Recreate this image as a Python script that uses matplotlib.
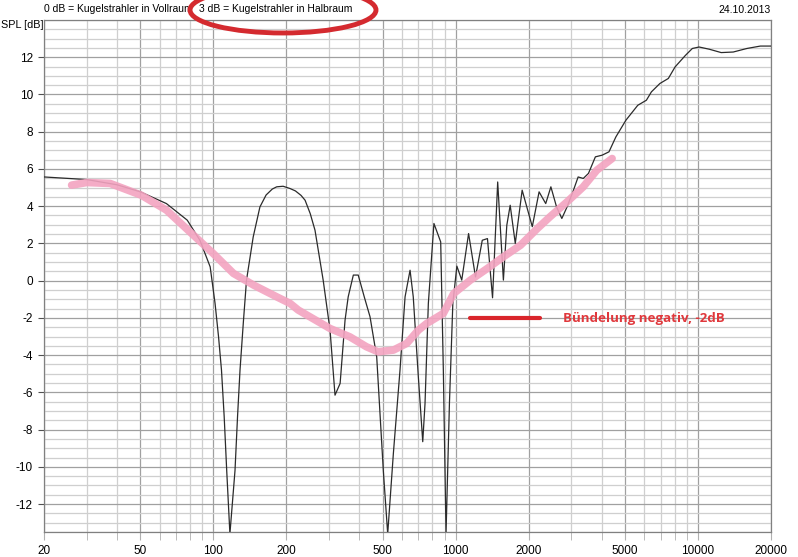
import numpy as np
import matplotlib
matplotlib.use('Agg')
import matplotlib.pyplot as plt
from matplotlib.patches import Ellipse
from matplotlib.ticker import FixedLocator, NullFormatter

plt.rcParams['font.family'] = ['Liberation Sans', 'DejaVu Sans']

# Measured response (black)
freq_meas = [20, 30, 40, 50, 64, 78, 88, 97, 101.6, 105, 108, 110.8, 113.5, 117,
             122.8, 125.8, 128.8, 133, 137, 146, 155.6, 165, 175, 182.5, 194, 207,
             218, 230, 239, 251, 262.6, 283.8, 303, 317.6, 333.4, 349.4, 360, 378,
             396, 420, 443, 472, 502.6, 524, 553, 589, 618, 648, 668, 701, 731,
             747, 771, 813, 867, 889, 912, 942, 973, 1011, 1059, 1130, 1207, 1287,
             1352, 1419, 1442, 1490, 1573, 1625, 1678, 1761, 1880, 2070, 2208,
             2352, 2470, 2607, 2741, 2880, 3050, 3200, 3360, 3530, 3770, 4020,
             4290, 4580, 5040, 5640, 6120, 6420, 6960, 7540, 8040, 8870, 9470,
             10100, 11130, 12460, 13970, 15900, 18080, 20000]
spl_meas = [5.57, 5.43, 5.15, 4.77, 4.14, 3.25, 2.17, 0.74, -1.22, -3.0, -4.8,
            -7.3, -10.2, -13.6, -10.2, -7.3, -4.8, -2.2, 0.03, 2.35, 3.96, 4.6,
            4.92, 5.04, 5.07, 4.95, 4.82, 4.58, 4.32, 3.6, 2.71, 0.03, -2.66,
            -6.15, -5.52, -2.12, -0.87, 0.3, 0.3, -0.9, -1.94, -4.09, -10.2,
            -13.6, -9.28, -4.8, -0.87, 0.56, -0.87, -5.16, -8.65, -6.6, -1.22,
            3.07, 2.08, -4.8, -13.6, -6.6, -1.22, 0.78, 0.03, 2.53, 0.2, 2.17,
            2.26, -0.92, 1.1, 5.3, 0.03, 2.98, 4.05, 2.0, 4.86, 2.9, 4.77, 4.14,
            5.04, 3.96, 3.34, 3.96, 4.8, 5.57, 5.49, 5.76, 6.65, 6.74, 6.92,
            7.72, 8.62, 9.42, 9.69, 10.14, 10.59, 10.86, 11.48, 12.1, 12.47,
            12.55, 12.43, 12.25, 12.28, 12.47, 12.6, 12.6]

# Hand-drawn trend (pink)
freq_trend = [26, 30, 37.5, 50.4, 64, 80, 99.8, 121, 146.6, 182.6, 207, 224,
              250, 303, 366, 428, 478, 553, 628, 701, 759, 889, 981, 1150, 1352,
              1573, 1850, 2172, 2449, 2880, 3360, 3820, 4420]
spl_trend = [5.13, 5.27, 5.22, 4.59, 3.79, 2.62, 1.46, 0.39, -0.24, -0.87, -1.22,
             -1.58, -1.94, -2.57, -3.02, -3.55, -3.82, -3.73, -3.37, -2.66, -2.3,
             -1.76, -0.69, 0.03, 0.66, 1.28, 1.9, 2.8, 3.43, 4.23, 5.04, 5.93,
             6.56]

# Annotation marker line
mark_freq = [1140, 2230]
mark_spl = [-2, -2]

major_x = [20, 50, 100, 200, 500, 1000, 2000, 5000, 10000, 20000]
minor_x = [30, 40, 60, 70, 80, 90, 300, 400, 600, 700, 800, 900,
           3000, 4000, 6000, 7000, 8000, 9000]
y_ticks = list(range(-12, 13, 2))

W, H = 798, 557
fig = plt.figure(figsize=(W / 100, H / 100), dpi=100)
ax = fig.add_axes([44 / W, 1 - 532 / H, 727 / W, 512 / H])

ax.set_xscale('log')
ax.set_xlim(20, 20000)
ax.set_ylim(-13.5, 14)

ax.xaxis.set_major_locator(FixedLocator(major_x))
ax.xaxis.set_minor_locator(FixedLocator(minor_x))
ax.xaxis.set_minor_formatter(NullFormatter())
ax.set_xticklabels([str(v) for v in major_x])
ax.yaxis.set_major_locator(FixedLocator(y_ticks))
ax.yaxis.set_minor_locator(FixedLocator(np.arange(-13.5, 14.01, 0.5)))
ax.set_yticklabels([str(v) for v in y_ticks])

ax.grid(which='major', color='#a0a0a0', lw=0.9)
ax.grid(which='minor', color='#cfcfcf', lw=0.9)
ax.set_axisbelow(True)
ax.tick_params(axis='x', which='both', length=6, color='#b0b0b0', pad=3, labelsize=8.5)
ax.tick_params(axis='y', which='major', length=4, color='#505050', pad=4, labelsize=8.5)
ax.tick_params(axis='y', which='minor', length=0)
for s in ax.spines.values():
    s.set_color('#808080')
    s.set_linewidth(0.9)

ax.plot(freq_meas, spl_meas, color='#2b2b2b', lw=0.9, zorder=3)
ax.plot(freq_trend, spl_trend, color='#f3a3c0', lw=5.5, alpha=0.9,
        solid_capstyle='round', solid_joinstyle='round', zorder=4)
ax.plot(mark_freq, mark_spl, color='#d9252b', lw=3, solid_capstyle='round', zorder=5)
ax.text(2780, -2.05, 'Bündelung negativ, -2dB', color='#e0383c', fontsize=9.6,
        fontweight='bold', family=['Open Sans', 'DejaVu Sans'], va='center', ha='left', zorder=5)

head = dict(fontsize=7.5, va='center')
fig.text(44 / W, 1 - 9 / H, '0 dB = Kugelstrahler in Vollraum', ha='left', **head)
fig.text(199 / W, 1 - 9 / H, '3 dB = Kugelstrahler in Halbraum', ha='left', **head)
fig.text(771 / W, 1 - 10 / H, '24.10.2013', ha='right', **head)
fig.text(1 / W, 1 - 25 / H, 'SPL [dB]', ha='left', va='center', fontsize=7.8)

ell = Ellipse((283 / W, 1 - 10 / H), 186 / W, 46 / H, fill=False,
              edgecolor='#d42a2f', lw=3.5, transform=fig.transFigure, clip_on=False, zorder=10)
fig.add_artist(ell)

fig.savefig('out.png', dpi=100)
